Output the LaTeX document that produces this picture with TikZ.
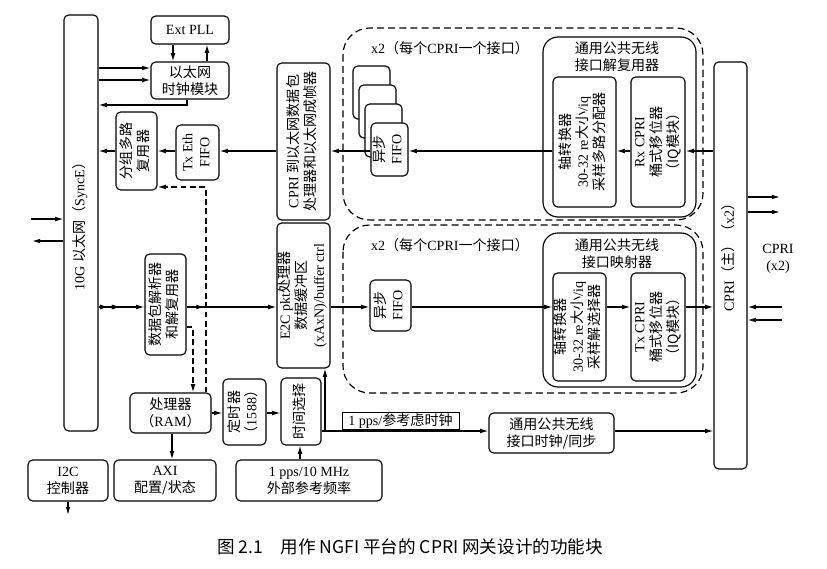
\documentclass[tikz,border=0pt]{standalone}
\usepackage{fontspec}
\usepackage{graphicx}
\setmainfont{Liberation Serif}
\newfontfamily\zhfont{Noto Sans CJK SC}
\newcommand\zh[1]{{\zhfont #1}}
\newcommand\vtext[1]{\rotatebox{90}{\begin{tabular}{@{}c@{}}#1\end{tabular}}}
\usetikzlibrary{arrows.meta, decorations.markings}

\begin{document}
\begin{tikzpicture}[
    x=0.03cm, y=-0.03cm,
    font=\fontsize{12}{14.5}\selectfont,
    box/.style={draw, line width=1pt, rounded corners=4pt, fill=white, inner sep=0pt, align=center},
    group/.style={draw, line width=1pt, rounded corners=0.45cm, inner sep=0pt},
    region/.style={draw, line width=1pt, dash pattern=on 6pt off 3.5pt, rounded corners=0.8cm},
    sz/.style 2 args={minimum width=#1*0.03cm, minimum height=#2*0.03cm},
    arrow/.style={-{Latex[length=7pt,width=4pt]}, line width=1pt},
    dasharrow/.style={arrow, dash pattern=on 5pt off 3pt},
    midtip/.style={postaction={decorate}, decoration={markings,
        mark=at position #1 with {\arrow{Latex[length=7pt,width=4pt]}}}}
  ]
  \useasboundingbox (0,0) rectangle (827,569);

  % dashed per-interface regions
  \draw[region] (343,28) rectangle (703,220);
  \draw[region] (343,225) rectangle (703,393);
  \node (rxnote) at (450,48) {x2\zh{（每个}CPRI\zh{一个接口）}};
  \node (txnote) at (450,245) {x2\zh{（每个}CPRI\zh{一个接口）}};

  % side bars
  \node[box, sz={34}{416}] (ethbar) at (81,223) {\vtext{10G \zh{以太网（}SyncE\zh{）}}};
  \node[box, sz={33}{407}] (cpribar) at (730.5,265.5) {\vtext{\hspace*{0.7cm}CPRI\zh{（主）（}x2\zh{）}}};
  \node[align=center] (cprinote) at (778,259) {CPRI\\(x2)};

  % clocking
  \node[box, sz={78}{28}] (extpll) at (190,30) {Ext PLL};
  \node[box, sz={78}{37}] (ethclk) at (190,80.5) {\zh{以太网}\\\zh{时钟模块}};

  % CPRI -> Ethernet path
  \node[box, sz={41}{78}] (pktmux) at (136.5,151) {\vtext{\zh{分组多路}\\\zh{复用器}}};
  \node[box, sz={43}{55}] (txfifo) at (197.5,152.5) {\vtext{Tx Eth\\FIFO}};
  \node[box, sz={53}{157}] (c2epkt) at (303.5,141.5) {\vtext{CPRI \zh{到以太网数据包}\\\zh{处理器和以太网成帧器}}};
  \foreach \k in {3,2,1}
    \node[box, sz={37}{53}] (rxfifo\k) at (389.5-6*\k,149.5-19*\k) {};
  \node[box, sz={37}{53}] (rxfifo) at (389.5,149.5) {\vtext{\zh{异步}\\FIFO}};
  \node[group, sz={153}{180}] (demux) at (619.5,127) {};
  \node[align=center] (demuxtitle) at (617,56.5) {\zh{通用公共无线}\\\zh{接口解复用器}};
  \node[box, sz={63}{130}] (rxaxis) at (584.5,142) {\vtext{\zh{轴转换器}\\30-32 re\zh{大小}/iq\\\zh{采样多路分配器}}};
  \node[box, sz={54}{130}] (rxshift) at (658,142) {\vtext{Rx CPRI\\\zh{桶式移位器}\\\zh{（IQ模块）}}};

  % Ethernet -> CPRI path
  \node[box, sz={41}{101}] (pktparse) at (165.5,304.5) {\vtext{\zh{数据包解析器}\\\zh{和解复用器}}};
  \node[box, sz={53}{145}] (e2cpkt) at (303.5,295.5) {\vtext{E2C pkt\zh{处理器}\\\zh{数据缓冲区}\\(xAxN)/buffer ctrl}};
  \node[box, sz={41}{51}] (txfifo2) at (390.5,305.5) {\vtext{\zh{异步}\\FIFO}};
  \node[group, sz={153}{154}] (mapper) at (619.5,310) {};
  \node[align=center] (mappertitle) at (617,254) {\zh{通用公共无线}\\\zh{接口映射器}};
  \node[box, sz={53}{108}] (txaxis) at (579.5,327) {\vtext{\zh{轴转换器}\\30-32 re\zh{大小}/iq\\\zh{采样解选择器}}};
  \node[box, sz={54}{108}] (txshift) at (658,327) {\vtext{Tx CPRI\\\zh{桶式移位器}\\\zh{（IQ模块）}}};

  % control and timing
  \node[box, sz={81}{40}] (cpu) at (170.5,413) {\zh{处理器}\\\zh{（}RAM\zh{）}};
  \node[box, sz={43}{66}] (timer) at (244.5,412) {\vtext{\zh{定时器}\\\zh{（}1588\zh{）}}};
  \node[box, sz={40}{67}] (timesel) at (301,411.5) {\vtext{\zh{时间选择}}};
  \node[box, sz={125}{40}] (clksync) at (551.5,433) {\zh{通用公共无线}\\\zh{接口时钟/同步}};
  \node[draw, line width=0.8pt, sz={117}{16}, inner sep=1pt] (ppslabel) at (400.5,421) {1 pps/\zh{参考虑时钟}};
  \node[box, sz={146}{41}] (extref) at (309,480.5) {1 pps/10 MHz\\\zh{外部参考频率}};
  \node[box, sz={102}{41}] (axi) at (165,480.5) {AXI\\\zh{配置/状态}};
  \node[box, sz={80}{41}] (i2c) at (68,480.5) {I2C\\\zh{控制器}};

  \coordinate (ethin) at (31,219);
  \coordinate (ethout) at (32,241);
  \coordinate (cpriout1) at (780,197);
  \coordinate (cpriout2) at (780,212);
  \coordinate (cpriin1) at (782,307);
  \coordinate (cpriin2) at (782,320);
  \coordinate (i2cout) at (68,515);
  \coordinate (tap) at (325,431);

  % connectors
  \draw[arrow] (ethin) -- (ethbar.west |- ethin);
  \draw[arrow] (ethbar.west |- ethout) -- (ethout);
  \draw[arrow] (ethbar.east |- 0,68) -- (ethclk.west |- 0,68);
  \draw[arrow] (ethbar.east |- 0,80) -- (ethclk.west |- 0,80);
  \draw[arrow] (extpll.south -| 173,0) -- (ethclk.north -| 173,0);
  \draw[arrow] (ethclk.north -| 207,0) -- (extpll.south -| 207,0);
  \draw[arrow] (ethclk.south -| 187,0) |- (ethbar.east |- 0,105);

  \draw[arrow] (c2epkt.west |- 0,151) -- (txfifo.east |- 0,151);
  \draw[arrow] (txfifo.west |- 0,151) -- (pktmux.east |- 0,151);
  \draw[arrow] (pktmux.west |- 0,151) -- (ethbar.east |- 0,151);
  \draw[arrow] (rxfifo.west |- 0,151) -- (c2epkt.east |- 0,151);
  \draw[arrow] (rxaxis.west |- 0,151) -- (rxfifo.east |- 0,151);
  \draw[arrow] (rxshift.west |- 0,151) -- (rxaxis.east |- 0,151);
  \draw[arrow] (cpribar.west |- 0,151) -- (rxshift.east |- 0,151);
  \draw[arrow] (cpribar.east |- cpriout1) -- (cpriout1);
  \draw[arrow] (cpribar.east |- cpriout2) -- (cpriout2);

  \draw[arrow, midtip=0.21, postaction={decorate}, decoration={markings,
      mark=at position 0.47 with {\arrow{Latex[length=7pt,width=4pt]}}}]
    (ethbar.east |- 0,307) -- (pktparse.west |- 0,307);
  \draw[arrow, midtip=0.2] (pktparse.east |- 0,307) -- (e2cpkt.west |- 0,307);
  \draw[arrow] (e2cpkt.east |- 0,307) -- (txfifo2.west |- 0,307);
  \draw[arrow] (txfifo2.east |- 0,307) -- (txaxis.west |- 0,307);
  \draw[arrow] (txaxis.east |- 0,307) -- (txshift.west |- 0,307);
  \draw[arrow] (txshift.east |- 0,307) -- (cpribar.west |- 0,307);
  \draw[arrow] (cpriin1) -- (cpribar.east |- cpriin1);
  \draw[arrow] (cpriin2) -- (cpribar.east |- cpriin2);

  \draw[dasharrow] (pktparse.east |- 0,327) -| (cpu.north -| 193,0);
  \draw[dasharrow] (cpu.north -| 206,0) |- (pktmux.east |- 0,187);
  \draw[arrow] (cpu.east |- 0,413) -- (timer.west |- 0,413);
  \draw[arrow] (timer.east |- 0,413) -- (timesel.west |- 0,413);
  \draw[arrow] (cpu.south -| 172,0) -- (axi.north -| 172,0);
  \draw[arrow] (extref.north -| 300,0) -- (timesel.south -| 300,0);
  \draw[line width=1pt] (timesel.east |- tap) -- (tap);
  \draw[arrow] (tap) -- (e2cpkt.south -| tap);
  \draw[arrow] (tap) -- (clksync.west |- tap);
  \draw[arrow] (clksync.east |- 0,431) -- (cpribar.west |- 0,431);
  \draw[arrow] (i2c.south) -- (i2cout);

  \node[font=\zhfont\fontsize{15}{17}\selectfont] (caption) at (410,547) {图 2.1\quad 用作 NGFI 平台的 CPRI 网关设计的功能块};
\end{tikzpicture}
\end{document}
